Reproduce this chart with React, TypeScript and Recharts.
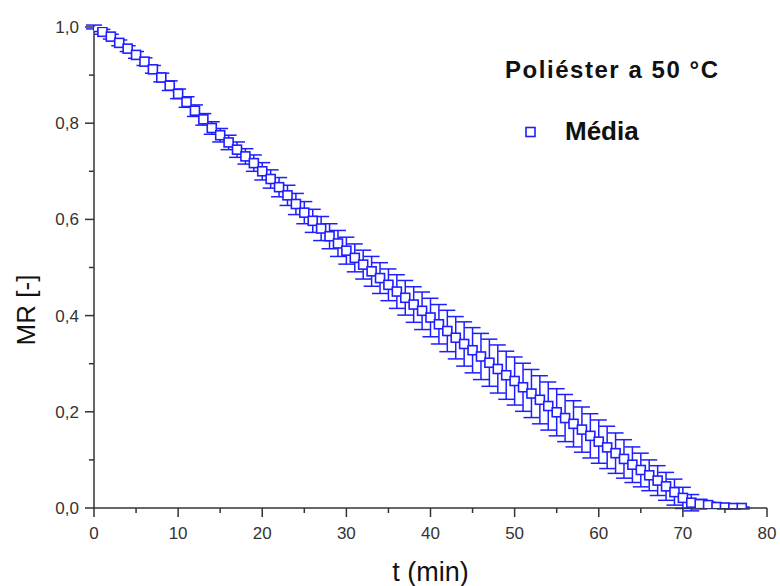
import React from 'react';
import { ScatterChart, Scatter, XAxis, YAxis, ErrorBar, Legend } from 'recharts';

const times = Array.from({ length: 78 }, (_, i) => i);

const mrValues = [
  1.000, 0.990, 0.980, 0.967, 0.955, 0.942, 0.928, 0.912, 0.895, 0.878,
  0.861, 0.844, 0.826, 0.808, 0.790, 0.775, 0.760, 0.745, 0.731, 0.717,
  0.700, 0.684, 0.667, 0.650, 0.632, 0.614, 0.597, 0.581, 0.565, 0.550,
  0.535, 0.520, 0.506, 0.492, 0.478, 0.464, 0.450, 0.437, 0.423, 0.410,
  0.396, 0.382, 0.368, 0.354, 0.341, 0.328, 0.315, 0.302, 0.289, 0.276,
  0.264, 0.251, 0.238, 0.225, 0.212, 0.199, 0.187, 0.175, 0.163, 0.150,
  0.138, 0.126, 0.114, 0.102, 0.090, 0.079, 0.068, 0.057, 0.045, 0.033,
  0.021, 0.011, 0.008, 0.006, 0.002, 0.001, 0.000, 0.000,
];

const errValues = [
  0.004, 0.005, 0.005, 0.006, 0.006, 0.007, 0.008, 0.008, 0.009, 0.010,
  0.010, 0.011, 0.012, 0.012, 0.013, 0.014, 0.015, 0.016, 0.016, 0.017,
  0.018, 0.019, 0.020, 0.021, 0.022, 0.023, 0.024, 0.025, 0.026, 0.027,
  0.028, 0.029, 0.030, 0.031, 0.032, 0.033, 0.035, 0.036, 0.037, 0.039,
  0.040, 0.041, 0.043, 0.044, 0.046, 0.047, 0.048, 0.049, 0.050, 0.050,
  0.050, 0.050, 0.050, 0.050, 0.050, 0.049, 0.049, 0.048, 0.047, 0.046,
  0.045, 0.044, 0.042, 0.040, 0.037, 0.035, 0.032, 0.031, 0.029, 0.027,
  0.022, 0.017, 0.010, 0.006, 0.003, 0.003, 0.002, 0.002,
];

const xTicks = [0, 5, 10, 15, 20, 25, 30, 35, 40, 45, 50, 55, 60, 65, 70, 75, 80];
const yTicks = [0, 0.1, 0.2, 0.3, 0.4, 0.5, 0.6, 0.7, 0.8, 0.9, 1.0];

const seriesName = 'Média';
const chartTitle = 'Poliéster a 50 °C';
const xTitle = 't (min)';
const yTitle = 'MR [-]';

const data = times.map((t, i) => ({ t, mr: mrValues[i], err: errValues[i] }));

const BLUE = '#1e1eff';
const AXIS = '#333';
const FONT = '"Liberation Sans", Arial, sans-serif';

const XTick = (props: any) => {
  const { x, y, payload } = props;
  const v = payload.value;
  const major = Math.round(v) % 10 === 0;
  return (
    <g>
      <line x1={x} y1={y} x2={x} y2={y + (major ? 9 : 5)} stroke={AXIS} strokeWidth={1.5} />
      {major && (
        <text x={x} y={y + 31} textAnchor="middle" fontSize={17} fill="#333" fontFamily={FONT}>
          {v}
        </text>
      )}
    </g>
  );
};

const YTick = (props: any) => {
  const { x, y, payload } = props;
  const v = payload.value;
  const major = Math.round(v * 10) % 2 === 0;
  return (
    <g>
      <line x1={x} y1={y} x2={x - (major ? 9 : 5)} y2={y} stroke={AXIS} strokeWidth={1.5} />
      {major && (
        <text x={x - 15} y={y + 6} textAnchor="end" fontSize={17} fill="#333" fontFamily={FONT}>
          {v.toFixed(1).replace('.', ',')}
        </text>
      )}
    </g>
  );
};

const RightTick = (props: any) => {
  const { x, y, payload } = props;
  const v = payload.value;
  const major = Math.round(v * 10) % 2 === 0;
  return <line x1={x} y1={y} x2={x - (major ? 8 : 5)} y2={y} stroke={AXIS} strokeWidth={1.5} />;
};

const Square = (props: any) => {
  const { cx, cy } = props;
  if (cx == null || cy == null) return null;
  return <rect x={cx - 4.5} y={cy - 4.5} width={9} height={9} fill="#fff" stroke={BLUE} strokeWidth={1.6} />;
};

const YLabel = () => {
  const cx = 26;
  const cy = 310;
  return (
    <text
      x={cx}
      y={cy}
      transform={`rotate(-90 ${cx} ${cy})`}
      textAnchor="middle"
      dominantBaseline="central"
      fontSize={26}
      fill="#111"
      fontFamily={FONT}
    >
      {yTitle}
    </text>
  );
};

const LegendContent = () => (
  <svg width={270} height={110} style={{ display: 'block', overflow: 'visible' }}>
    <text x={10} y={33} fontSize={24} fontWeight="bold" fill="#111" fontFamily={FONT} textLength={213} lengthAdjust="spacing">
      {chartTitle}
    </text>
    <rect x={31} y={82.5} width={9} height={9} fill="#fff" stroke={BLUE} strokeWidth={1.6} />
    <text x={70} y={95} fontSize={26} fontWeight="bold" fill="#111" fontFamily={FONT}>
      {seriesName}
    </text>
  </svg>
);

export default function App() {
  return (
    <div style={{ position: 'absolute', left: 0, top: 0, width: 780, height: 586, background: '#fff', fontFamily: FONT }}>
      <ScatterChart width={780} height={586} margin={{ top: 27, right: 13, bottom: 0, left: 0 }}>
        <XAxis
          dataKey="t"
          type="number"
          domain={[0, 80]}
          ticks={xTicks}
          height={78}
          tickSize={0}
          tickMargin={0}
          tickLine={false}
          tick={<XTick />}
          axisLine={{ stroke: AXIS, strokeWidth: 1.5 }}
          interval={0}
          allowDataOverflow
          label={{ value: xTitle, position: 'insideBottom', offset: 5, fontSize: 27, fill: '#111', fontFamily: FONT }}
        />
        <XAxis
          xAxisId="top"
          orientation="top"
          type="number"
          domain={[0, 80]}
          height={0}
          tick={false}
          tickLine={false}
          axisLine={{ stroke: AXIS, strokeWidth: 1.5 }}
        />
        <YAxis
          dataKey="mr"
          type="number"
          domain={[0, 1]}
          ticks={yTicks}
          width={94}
          tickSize={0}
          tickMargin={0}
          tickLine={false}
          tick={<YTick />}
          axisLine={{ stroke: AXIS, strokeWidth: 1.5 }}
          interval={0}
          allowDataOverflow
          label={<YLabel />}
        />
        <YAxis
          yAxisId="right"
          orientation="right"
          type="number"
          domain={[0, 1]}
          ticks={yTicks}
          width={0}
          tickSize={0}
          tickMargin={0}
          tickLine={false}
          tick={<RightTick />}
          axisLine={{ stroke: AXIS, strokeWidth: 1.5 }}
          interval={0}
        />
        <Legend
          layout="vertical"
          align="center"
          verticalAlign="middle"
          wrapperStyle={{ left: 495, top: 45, width: 270, height: 110 }}
          content={() => <LegendContent />}
        />
        <Scatter name={seriesName} data={data} shape={<Square />} isAnimationActive={false}>
          <ErrorBar dataKey="err" direction="y" width={8} stroke={BLUE} strokeWidth={1.5} />
        </Scatter>
      </ScatterChart>
    </div>
  );
}
